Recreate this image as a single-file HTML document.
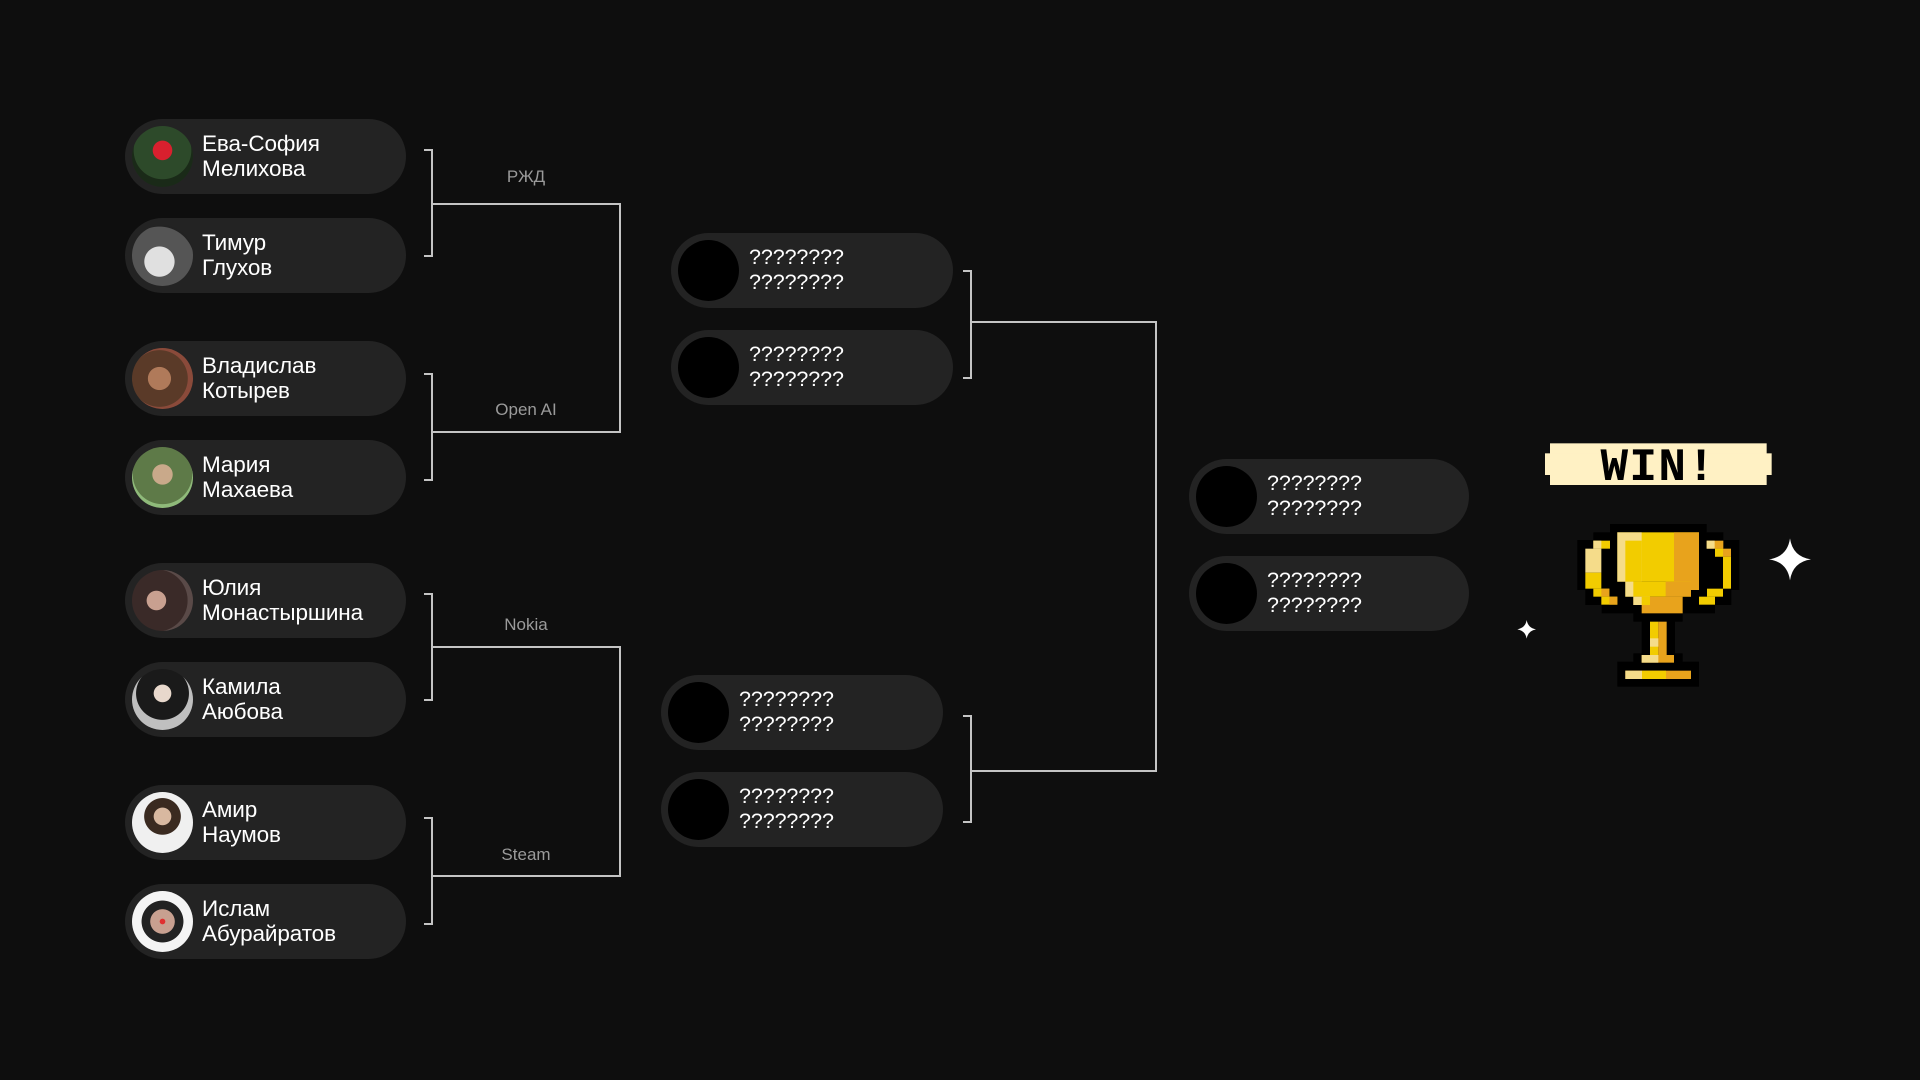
<!DOCTYPE html>
<html><head><meta charset="utf-8"><style>
body{margin:0;width:1920px;height:1080px;background:#0e0e0e;position:relative;overflow:hidden;font-family:"Liberation Sans","DejaVu Sans",sans-serif}
.p{position:absolute;height:75px;border-radius:38px;background:#232323}
.av{position:absolute;left:7px;top:7px;width:61px;height:61px;border-radius:50%;background:#000}
.t{position:absolute;color:#fff;font-size:22.5px;line-height:25px;top:12px;left:77px;letter-spacing:-0.1px}
.m{font-size:21.5px;left:78px}
.l{position:absolute;background:#c4c4c4}
.lb{position:absolute;color:#9a9a9a;font-size:17px;width:120px;text-align:center;margin-left:-60px}
</style></head><body>

<div class="p" style="left:125px;top:119px;width:281px"><div class="av" style="background:radial-gradient(circle at 50% 40%,#d8202e 0 20%,#2d4a2a 21% 60%,#1a2a18 61%)"></div><div class="t">Ева-София<br>Мелихова</div></div>
<div class="p" style="left:125px;top:218px;width:281px"><div class="av" style="background:radial-gradient(circle at 45% 60%,#e0e0e0 0 30%,#555 31% 70%,#222 71%)"></div><div class="t">Тимур<br>Глухов</div></div>
<div class="p" style="left:125px;top:341px;width:281px"><div class="av" style="background:radial-gradient(circle at 45% 50%,#b07a5a 0 25%,#5a3a28 26% 62%,#8a4a3a 63%)"></div><div class="t">Владислав<br>Котырев</div></div>
<div class="p" style="left:125px;top:440px;width:281px"><div class="av" style="background:radial-gradient(circle at 50% 45%,#c9a98a 0 22%,#5e7a48 23% 65%,#8fba7a 66%)"></div><div class="t">Мария<br>Махаева</div></div>
<div class="p" style="left:125px;top:563px;width:281px"><div class="av" style="background:radial-gradient(circle at 40% 50%,#c8a090 0 20%,#3a2a28 21% 65%,#5a4a48 66%)"></div><div class="t">Юлия<br>Монастыршина</div></div>
<div class="p" style="left:125px;top:662px;width:281px"><div class="av" style="background:radial-gradient(circle at 50% 40%,#e8d8cc 0 18%,#1a1a1a 19% 55%,#bfbfbf 56%)"></div><div class="t">Камила<br>Аюбова</div></div>
<div class="p" style="left:125px;top:785px;width:281px"><div class="av" style="background:radial-gradient(circle at 50% 40%,#d8b8a0 0 18%,#3a2a20 19% 38%,#f0f0f0 39%)"></div><div class="t">Амир<br>Наумов</div></div>
<div class="p" style="left:125px;top:884px;width:281px"><div class="av" style="background:radial-gradient(circle at 50% 50%,#e03030 0 6%,#c8a090 7% 28%,#222 29% 48%,#f4f4f4 49%)"></div><div class="t">Ислам<br>Абурайратов</div></div>

<!-- left brackets -->
<div class="l" style="left:424px;top:149px;width:9px;height:2px"></div>
<div class="l" style="left:431px;top:149px;width:2px;height:108px"></div>
<div class="l" style="left:424px;top:255px;width:9px;height:2px"></div>
<div class="l" style="left:431px;top:203px;width:190px;height:2px"></div>
<div class="lb" style="left:526px;top:167px">РЖД</div>

<div class="l" style="left:424px;top:373px;width:9px;height:2px"></div>
<div class="l" style="left:431px;top:373px;width:2px;height:108px"></div>
<div class="l" style="left:424px;top:479px;width:9px;height:2px"></div>
<div class="l" style="left:431px;top:431px;width:190px;height:2px"></div>
<div class="lb" style="left:526px;top:400px">Open AI</div>
<div class="l" style="left:619px;top:203px;width:2px;height:230px"></div>

<div class="l" style="left:424px;top:593px;width:9px;height:2px"></div>
<div class="l" style="left:431px;top:593px;width:2px;height:108px"></div>
<div class="l" style="left:424px;top:699px;width:9px;height:2px"></div>
<div class="l" style="left:431px;top:646px;width:190px;height:2px"></div>
<div class="lb" style="left:526px;top:615px">Nokia</div>

<div class="l" style="left:424px;top:817px;width:9px;height:2px"></div>
<div class="l" style="left:431px;top:817px;width:2px;height:108px"></div>
<div class="l" style="left:424px;top:923px;width:9px;height:2px"></div>
<div class="l" style="left:431px;top:875px;width:190px;height:2px"></div>
<div class="lb" style="left:526px;top:845px">Steam</div>
<div class="l" style="left:619px;top:646px;width:2px;height:231px"></div>

<!-- middle pills -->
<div class="p" style="left:671px;top:233px;width:282px"><div class="av"></div><div class="t m">????????<br>????????</div></div>
<div class="p" style="left:671px;top:330px;width:282px"><div class="av"></div><div class="t m">????????<br>????????</div></div>
<div class="p" style="left:661px;top:675px;width:282px"><div class="av"></div><div class="t m">????????<br>????????</div></div>
<div class="p" style="left:661px;top:772px;width:282px"><div class="av"></div><div class="t m">????????<br>????????</div></div>

<div class="l" style="left:963px;top:270px;width:9px;height:2px"></div>
<div class="l" style="left:970px;top:270px;width:2px;height:109px"></div>
<div class="l" style="left:963px;top:377px;width:9px;height:2px"></div>
<div class="l" style="left:970px;top:321px;width:187px;height:2px"></div>

<div class="l" style="left:963px;top:715px;width:9px;height:2px"></div>
<div class="l" style="left:970px;top:715px;width:2px;height:108px"></div>
<div class="l" style="left:963px;top:821px;width:9px;height:2px"></div>
<div class="l" style="left:970px;top:770px;width:187px;height:2px"></div>
<div class="l" style="left:1155px;top:321px;width:2px;height:451px"></div>

<!-- final pills -->
<div class="p" style="left:1189px;top:459px;width:280px"><div class="av"></div><div class="t m">????????<br>????????</div></div>
<div class="p" style="left:1189px;top:556px;width:280px"><div class="av"></div><div class="t m">????????<br>????????</div></div>

<!-- trophy -->
<svg style="position:absolute;left:1500px;top:420px" width="340" height="280" viewBox="0 0 1020 840">
<rect x="150" y="70" width="650" height="125" fill="#fff1c4"/>
<rect x="135" y="100" width="680" height="65" fill="#fff1c4"/>
<text x="475" y="180" text-anchor="middle" font-family="Liberation Mono,monospace" font-weight="bold" font-size="138" fill="#000" letter-spacing="4">WIN!</text>
<rect x="330" y="312" width="290" height="200" fill="#000"/>
<rect x="280" y="337" width="390" height="50" fill="#000"/>
<rect x="232" y="360" width="486" height="150" fill="#000"/>
<rect x="256" y="505" width="438" height="50" fill="#000"/>
<rect x="305" y="530" width="340" height="50" fill="#000"/>
<rect x="400" y="575" width="148" height="30" fill="#000"/>
<rect x="425" y="600" width="100" height="110" fill="#000"/>
<rect x="400" y="700" width="148" height="30" fill="#000"/>
<rect x="352" y="725" width="245" height="75" fill="#000"/>
<rect x="280" y="362" width="50" height="24" fill="#f2cc00"/><rect x="280" y="362" width="24" height="24" fill="#f5dc8a"/>
<rect x="256" y="386" width="48" height="72" fill="#f5dc8a"/>
<rect x="256" y="458" width="48" height="48" fill="#f2cc00"/>
<rect x="280" y="506" width="48" height="24" fill="#f2cc00"/><rect x="304" y="506" width="24" height="24" fill="#e8a31c"/>
<rect x="304" y="530" width="48" height="24" fill="#f2cc00"/><rect x="328" y="530" width="24" height="24" fill="#e8a31c"/>
<rect x="620" y="362" width="50" height="24" fill="#e8a31c"/><rect x="620" y="362" width="24" height="24" fill="#f5dc8a"/>
<rect x="645" y="386" width="48" height="24" fill="#e8a31c"/><rect x="645" y="386" width="24" height="24" fill="#f2cc00"/>
<rect x="669" y="410" width="24" height="96" fill="#f2cc00"/>
<rect x="621" y="506" width="48" height="24" fill="#f2cc00"/>
<rect x="597" y="530" width="48" height="24" fill="#f2cc00"/>
<rect x="352" y="337" width="245" height="148" fill="#f2cc00"/>
<rect x="352" y="337" width="73" height="148" fill="#f5dc8a"/>
<rect x="376" y="362" width="49" height="123" fill="#f2cc00"/>
<rect x="522" y="337" width="75" height="173" fill="#e8a31c"/>
<rect x="376" y="485" width="197" height="45" fill="#f2cc00"/>
<rect x="376" y="485" width="24" height="45" fill="#f5dc8a"/>
<rect x="497" y="485" width="76" height="45" fill="#e8a31c"/>
<rect x="400" y="530" width="148" height="25" fill="#e8a31c"/>
<rect x="400" y="530" width="50" height="25" fill="#f5dc8a"/><rect x="425" y="530" width="25" height="25" fill="#f2cc00"/>
<rect x="425" y="555" width="123" height="25" fill="#e8a31c"/>
<rect x="450" y="605" width="25" height="100" fill="#f2cc00"/>
<rect x="475" y="605" width="25" height="100" fill="#e8a31c"/>
<rect x="450" y="655" width="25" height="25" fill="#f5dc8a"/>
<rect x="425" y="705" width="97" height="23" fill="#e8a31c"/>
<rect x="425" y="705" width="50" height="23" fill="#f5dc8a"/>
<rect x="376" y="752" width="197" height="25" fill="#e8a31c"/>
<rect x="376" y="752" width="50" height="25" fill="#f5dc8a"/>
<rect x="426" y="752" width="72" height="25" fill="#f2cc00"/>
<path d="M870 355 Q878 410 933 418 Q878 426 870 481 Q862 426 807 418 Q862 410 870 355Z" fill="#fff"/>
<path d="M80 600 Q84 624 108 628 Q84 632 80 656 Q76 632 52 628 Q76 624 80 600Z" fill="#fff"/>
</svg>
</body></html>
